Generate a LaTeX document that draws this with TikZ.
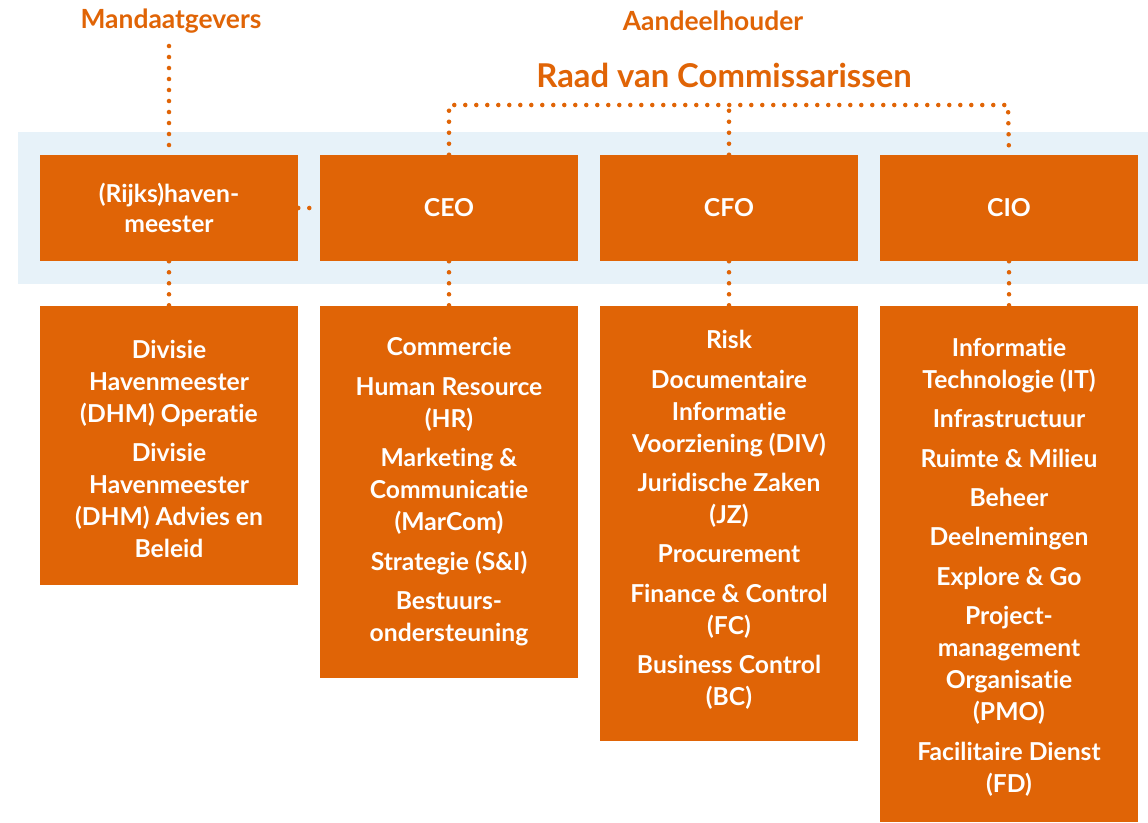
\documentclass[tikz,border=0pt]{standalone}
\usepackage{fontspec}
\setmainfont{Lato}[Ligatures={NoCommon}]
\definecolor{orng}{RGB}{224,100,6}
\definecolor{band}{RGB}{231,242,249}
\tikzset{
  box/.style={fill=orng, draw=none, inner sep=0pt, minimum width=193.5pt},
  topbox/.style={box, minimum height=79.5pt, text=white, font=\bfseries\fontsize{18.5}{22}\selectfont, align=center},
  boxtext/.style={text=white, inner sep=0pt, align=center, font=\bfseries\fontsize{18.5}{24}\selectfont},
  head/.style={text=orng, inner sep=0pt, font=\bfseries\fontsize{19.8}{22}\selectfont},
  dots/.style={draw=orng, line width=3.4pt, line cap=round, dash pattern=on 0pt off 8.25pt}
}
\newcommand{\gapp}{\\[5.6pt]}
\begin{document}
\begin{tikzpicture}[x=0.75pt,y=-0.75pt]
\useasboundingbox (0,0) rectangle (1148,822);
\fill[band] (18,132) rectangle (1148,284);
% headers
\node[head] (mand) at (171,21) {Mandaatgevers};
\node[head] (aand) at (713,21) {Aandeelhouder};
\node[head, font=\bfseries\fontsize{24.6}{26}\selectfont] (raad) at (724,75) {Raad van Commissarissen};
% top boxes
\node[topbox] (h1) at (169,208) {(Rijks)haven-\\meester};
\node[topbox] (ceo) at (449,208) {CEO};
\node[topbox] (cfo) at (729,208) {CFO};
\node[topbox] (cio) at (1009,208) {CIO};
% bottom boxes
\node[box, anchor=north, minimum height=209.25pt] (d1) at (169,306) {};
\node[box, anchor=north, minimum height=279pt] (d2) at (449,306) {};
\node[box, anchor=north, minimum height=326.25pt] (d3) at (729,306) {};
\node[box, anchor=north, minimum height=387pt] (d4) at (1009,306) {};
\node[boxtext] (t1) at (169,449) {Divisie\\Havenmeester\\(DHM) Operatie\gapp Divisie\\Havenmeester\\(DHM) Advies en\\Beleid};
\node[boxtext] (t2) at (449,492) {Commercie\gapp Human Resource\\(HR)\gapp Marketing \&\\Communicatie\\(MarCom)\gapp Strategie (S\&I)\gapp Bestuurs-\\ondersteuning};
\node[boxtext] (t3) at (729,520) {Risk\gapp Documentaire\\Informatie\\Voorziening (DIV)\gapp Juridische Zaken\\(JZ)\gapp Procurement\gapp Finance \& Control\\(FC)\gapp Business Control\\(BC)};
\node[boxtext] (t4) at (1009,567) {Informatie\\Technologie (IT)\gapp Infrastructuur\gapp Ruimte \& Milieu\gapp Beheer\gapp Deelnemingen\gapp Explore \& Go\gapp Project-\\management\\Organisatie\\(PMO)\gapp Facilitaire Dienst\\(FD)};
% connectors
\coordinate (m0) at (169,46);
\coordinate (rl) at (449,105);
\coordinate (rr) at (1008,105);
\draw[dots] (m0) -- (h1.north);
\draw[dots] (h1.south) -- (d1.north);
\draw[dots] (h1.east) -- (ceo.west);
\draw[dots] (ceo.north) -- (rl) -- (rr) -- (cio.north);
\draw[dots] (cfo.north) -- (cfo.north |- rl);
\draw[dots] (ceo.south) -- (d2.north);
\draw[dots] (cfo.south) -- (d3.north);
\draw[dots] (cio.south) -- (d4.north);
\end{tikzpicture}
\end{document}
